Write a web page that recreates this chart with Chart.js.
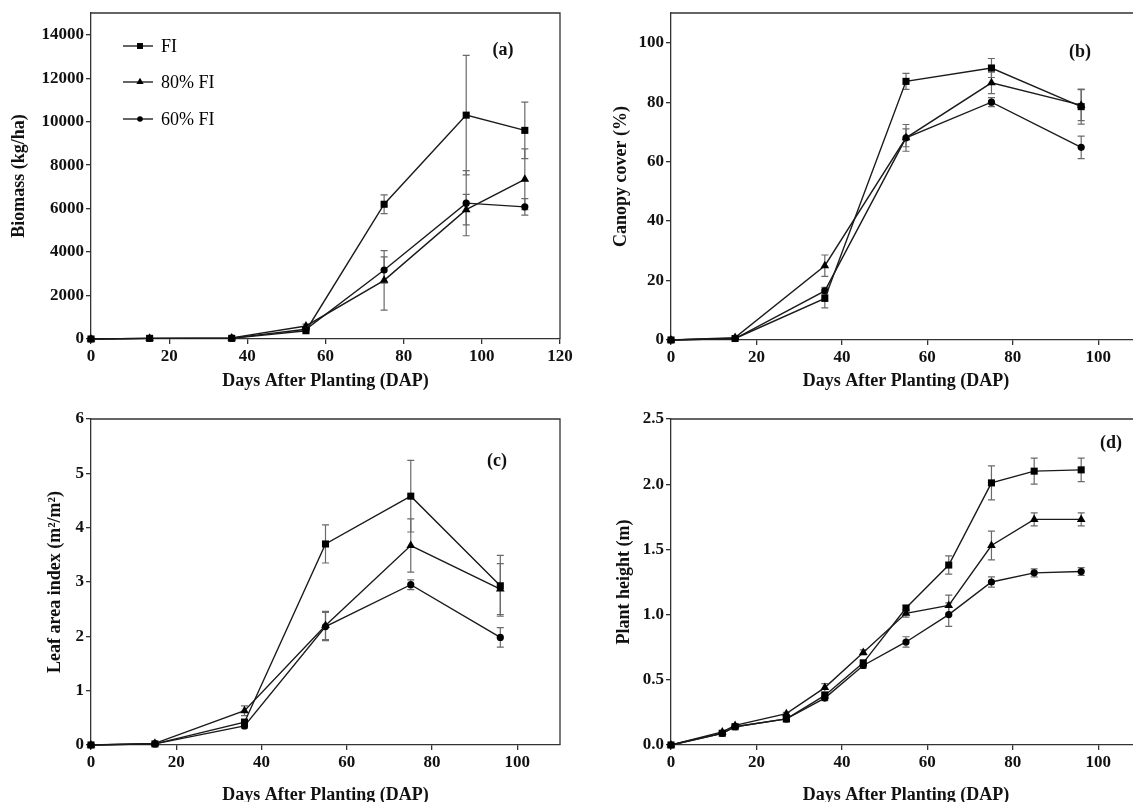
<!DOCTYPE html>
<html><head>
<meta charset="UTF-8">
<title>Growth parameters</title>
<script src="https://cdn.jsdelivr.net/npm/chart.js"></script>
<style>
  body { margin: 0; background: #fff; width: 1133px; height: 802px; overflow: hidden; position: relative; }
  canvas { position: absolute; }
</style>
</head>
<body>
<canvas id="pb" width="600" height="400" style="left:566px;top:0"></canvas>
<canvas id="pd" width="600" height="420" style="left:566px;top:400px"></canvas>
<canvas id="pa" width="600" height="400" style="left:0;top:0"></canvas>
<canvas id="pc" width="600" height="420" style="left:0;top:400px"></canvas>
<script>
  // treatments
  const seriesLabels = ['FI', '80% FI', '60% FI'];

  // tick labels
  const dapTicksA = [0, 20, 40, 60, 80, 100, 120];
  const dapTicks = [0, 20, 40, 60, 80, 100];
  const biomassTicks = [0, 2000, 4000, 6000, 8000, 10000, 12000, 14000];
  const canopyTicks = [0, 20, 40, 60, 80, 100];
  const laiTicks = [0, 1, 2, 3, 4, 5, 6];
  const heightTicks = [0, 0.5, 1.0, 1.5, 2.0, 2.5];

  // (a) biomass, kg/ha
  const dapA = [0, 15, 36, 55, 75, 96, 111];
  const biomassFI = [0, 30, 30, 380, 6200, 10300, 9600];
  const biomass80 = [0, 30, 50, 600, 2700, 5950, 7350];
  const biomass60 = [0, 30, 40, 450, 3175, 6250, 6080];
  const biomassErrFI = [0, 0, 0, 60, 430, 2750, 1300];
  const biomassErr80 = [0, 0, 0, 80, 1370, 700, 1400];
  const biomassErr60 = [0, 0, 0, 60, 600, 1500, 380];

  // (b) canopy cover, %
  const dapB = [0, 15, 36, 55, 75, 96];
  const canopyFI = [0, 0.5, 14, 87, 91.5, 78.5];
  const canopy80 = [0, 0.8, 25, 68, 86.5, 79];
  const canopy60 = [0, 0.5, 16.5, 68, 80, 64.8];
  const canopyErrFI = [0, 0.3, 3.2, 2.7, 3.2, 5.9];
  const canopyErr80 = [0, 0.3, 3.6, 4.5, 3.6, 5.2];
  const canopyErr60 = [0, 0.2, 1.2, 3.0, 1.5, 3.8];

  // (c) leaf area index
  const dapC = [0, 15, 36, 55, 75, 96];
  const laiFI = [0, 0.02, 0.42, 3.7, 4.58, 2.93];
  const lai80 = [0, 0.03, 0.63, 2.2, 3.67, 2.87];
  const lai60 = [0, 0.02, 0.35, 2.18, 2.95, 1.98];
  const laiErrFI = [0, 0.01, 0.05, 0.35, 0.66, 0.56];
  const laiErr80 = [0, 0.01, 0.09, 0.26, 0.49, 0.47];
  const laiErr60 = [0, 0.01, 0.04, 0.26, 0.09, 0.18];

  // (d) plant height, m
  const dapD = [0, 12, 15, 27, 36, 45, 55, 65, 75, 85, 96];
  const heightFI = [0, 0.09, 0.14, 0.20, 0.38, 0.63, 1.05, 1.38, 2.01, 2.10, 2.11];
  const height80 = [0, 0.10, 0.15, 0.24, 0.44, 0.71, 1.01, 1.07, 1.53, 1.73, 1.73];
  const height60 = [0, 0.09, 0.14, 0.20, 0.36, 0.61, 0.79, 1.00, 1.25, 1.32, 1.33];
  const heightErrFI = [0, 0.01, 0.01, 0.01, 0.02, 0.02, 0.02, 0.07, 0.13, 0.10, 0.09];
  const heightErr80 = [0, 0.01, 0.01, 0.01, 0.03, 0.02, 0.03, 0.08, 0.11, 0.05, 0.05];
  const heightErr60 = [0, 0.01, 0.01, 0.02, 0.02, 0.02, 0.04, 0.09, 0.04, 0.03, 0.03];

  const xTitle = 'Days After Planting (DAP)';
  const markerStyles = ['rect', 'triangle', 'circle'];
  const markerRadius = [5, 5, 3.6];

  Chart.defaults.font.family = '"Liberation Serif", "DejaVu Serif", serif';
  Chart.defaults.color = '#111';

  // box round the plot area (top and right sides)
  const frame = {
    id: 'frame',
    afterDraw(chart) {
      const {ctx, chartArea: a} = chart;
      ctx.save();
      ctx.strokeStyle = '#333';
      ctx.lineWidth = 1.3;
      ctx.beginPath();
      ctx.moveTo(a.left, a.top);
      ctx.lineTo(a.right, a.top);
      ctx.lineTo(a.right, a.bottom);
      ctx.stroke();
      ctx.restore();
    }
  };

  // vertical error bars, drawn under the lines
  const errorBars = {
    id: 'errorBars',
    beforeDatasetsDraw(chart) {
      const {ctx, scales: {x, y}} = chart;
      ctx.save();
      ctx.strokeStyle = '#6a6a6a';
      ctx.lineWidth = 1.2;
      chart.data.datasets.forEach(ds => {
        ds.data.forEach((p, i) => {
          const e = ds.errors[i];
          if (!e) return;
          const px = x.getPixelForValue(p.x);
          const top = y.getPixelForValue(p.y + e);
          const bot = y.getPixelForValue(p.y - e);
          ctx.beginPath();
          ctx.moveTo(px, top); ctx.lineTo(px, bot);
          ctx.moveTo(px - 3.5, top); ctx.lineTo(px + 3.5, top);
          ctx.moveTo(px - 3.5, bot); ctx.lineTo(px + 3.5, bot);
          ctx.stroke();
        });
      });
      ctx.restore();
    }
  };

  const panelLabel = {
    id: 'panelLabel',
    afterDraw(chart, args, opts) {
      const {ctx} = chart;
      ctx.save();
      ctx.font = 'bold 18px "Liberation Serif", serif';
      ctx.fillStyle = '#111';
      ctx.textAlign = 'center';
      ctx.textBaseline = 'middle';
      ctx.fillText(opts.text, opts.x, opts.y);
      ctx.restore();
    }
  };

  // line + marker legend, only for panel (a)
  const lineLegend = {
    id: 'lineLegend',
    afterDraw(chart, args, opts) {
      if (!opts.show) return;
      const {ctx} = chart;
      ctx.save();
      chart.data.datasets.forEach((ds, i) => {
        const y = opts.y[i];
        ctx.strokeStyle = '#111';
        ctx.lineWidth = 1.3;
        ctx.beginPath();
        ctx.moveTo(opts.x0, y); ctx.lineTo(opts.x1, y);
        ctx.stroke();
        ctx.fillStyle = '#000';
        Chart.helpers.drawPoint(ctx, {pointStyle: ds.pointStyle, radius: ds.pointRadius - 0.8, borderWidth: 0}, (opts.x0 + opts.x1) / 2 + 2, y);
        ctx.font = '18px "Liberation Serif", serif';
        ctx.textBaseline = 'middle';
        ctx.fillText(ds.label, opts.x1 + 8, y + 1);
      });
      ctx.restore();
    }
  };

  function makePanel(id, cfg) {
    const datasets = cfg.series.map((s, i) => ({
      label: seriesLabels[i],
      data: cfg.x.map((x, j) => ({x: x, y: s[j]})),
      errors: cfg.err[i],
      borderColor: '#1a1a1a',
      borderWidth: 1.4,
      pointStyle: markerStyles[i],
      pointRadius: markerRadius[i],
      pointBackgroundColor: '#000',
      pointBorderColor: '#000',
      pointBorderWidth: 0,
      tension: 0,
      clip: false
    }));
    const tickFont = {size: 17, weight: 'bold'};
    const titleFont = {size: 18, weight: 'bold'};
    new Chart(document.getElementById(id), {
      type: 'line',
      data: {datasets: datasets},
      options: {
        responsive: false,
        animation: false,
        events: [],
        layout: {padding: {top: cfg.padTop, right: cfg.padRight, left: 0, bottom: 0}},
        plugins: {
          legend: {display: false},
          tooltip: {enabled: false},
          panelLabel: cfg.label,
          lineLegend: cfg.legend || {show: false}
        },
        scales: {
          x: {
            type: 'linear', min: 0, max: cfg.xMax,
            afterBuildTicks: s => { s.ticks = cfg.xTicks.map(v => ({value: v})); },
            ticks: {font: tickFont, padding: 2, maxRotation: 0, autoSkip: false,
                    callback: v => String(v)},
            grid: {drawOnChartArea: false, tickLength: 5, color: '#333', lineWidth: 1.3},
            border: {color: '#333', width: 1.3},
            title: {display: true, text: xTitle, font: titleFont, padding: {top: 0, bottom: cfg.xTitlePad}},
            afterFit: s => { s.height = cfg.xAxisH; }
          },
          y: {
            type: 'linear', min: 0, max: cfg.yMax,
            afterBuildTicks: s => { s.ticks = cfg.yTicks.map(v => ({value: v})); },
            ticks: {font: tickFont, padding: 2, autoSkip: false,
                    callback: v => cfg.yDec ? v.toFixed(cfg.yDec) : String(v)},
            grid: {drawOnChartArea: false, tickLength: 5, color: '#333', lineWidth: 1.3},
            border: {color: '#333', width: 1.3},
            title: {display: true, text: cfg.yTitle, font: titleFont, padding: {top: cfg.yTitlePad, bottom: 0}},
            afterFit: s => { s.width = cfg.yAxisW; }
          }
        }
      },
      plugins: [errorBars, frame, panelLabel, lineLegend]
    });
  }

  makePanel('pa', {
    x: dapA, series: [biomassFI, biomass80, biomass60], err: [biomassErrFI, biomassErr80, biomassErr60],
    xMax: 120, yMax: 15000, xTicks: dapTicksA, yTicks: biomassTicks, yTitle: 'Biomass (kg/ha)',
    padTop: 13, padRight: 40, yAxisW: 91, xAxisH: 61, xTitlePad: 8, yTitlePad: 9,
    label: {text: '(a)', x: 503, y: 50},
    legend: {show: true, x0: 123, x1: 153, y: [46, 82, 119]}
  });

  makePanel('pb', {
    x: dapB, series: [canopyFI, canopy80, canopy60], err: [canopyErrFI, canopyErr80, canopyErr60],
    xMax: 110, yMax: 110, xTicks: dapTicks, yTicks: canopyTicks, yTitle: 'Canopy cover (%)',
    padTop: 13, padRight: 25, yAxisW: 105, xAxisH: 60, xTitlePad: 8, yTitlePad: 45,
    label: {text: '(b)', x: 514, y: 52}
  });

  makePanel('pc', {
    x: dapC, series: [laiFI, lai80, lai60], err: [laiErrFI, laiErr80, laiErr60],
    xMax: 110, yMax: 6, xTicks: dapTicks, yTicks: laiTicks, yTitle: 'Leaf area index (m²/m²)',
    padTop: 19, padRight: 40, yAxisW: 91, xAxisH: 75, xTitlePad: 14, yTitlePad: 45,
    label: {text: '(c)', x: 497, y: 61}
  });

  makePanel('pd', {
    x: dapD, series: [heightFI, height80, height60], err: [heightErrFI, heightErr80, heightErr60],
    xMax: 110, yMax: 2.5, xTicks: dapTicks, yTicks: heightTicks, yDec: 1, yTitle: 'Plant height (m)',
    padTop: 19, padRight: 25, yAxisW: 105, xAxisH: 75, xTitlePad: 14, yTitlePad: 48,
    label: {text: '(d)', x: 545, y: 43}
  });
</script>
</body>
</html>
